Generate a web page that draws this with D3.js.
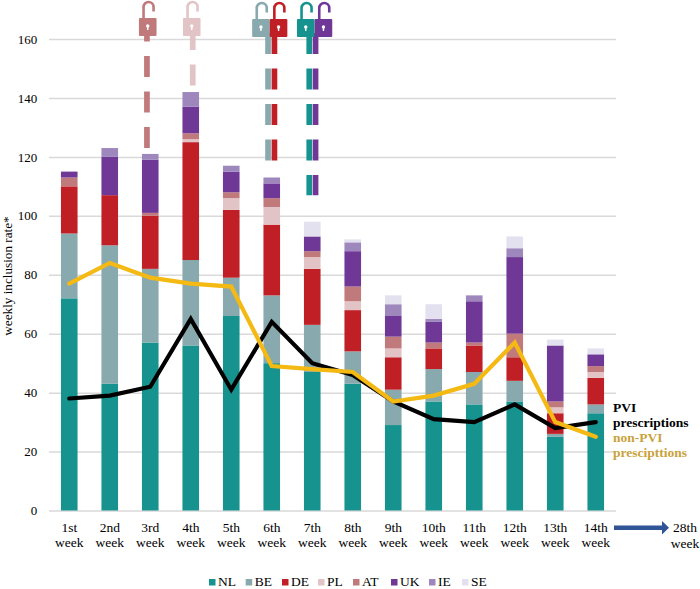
<!DOCTYPE html>
<html>
<head>
<meta charset="utf-8">
<script src="https://d3js.org/d3.v7.min.js"></script>
<style>
  html, body { margin: 0; padding: 0; background: #fff; }
  svg text { font-family: "Liberation Serif", serif; fill: #000; }
</style>
</head>
<body>
<div id="chart"></div>
<script>
var weeks = ["1st", "2nd", "3rd", "4th", "5th", "6th", "7th", "8th", "9th", "10th", "11th", "12th", "13th", "14th"];
var countries = ["NL", "BE", "DE", "PL", "AT", "UK", "IE", "SE"];

// inclusions per week, one list per country
var NL = [72, 43, 57, 56, 66, 50, 47, 43, 29, 37, 36, 37, 25, 33];
var BE = [22, 47, 25, 29, 13, 23, 16, 11, 12, 11, 11, 7, 1, 3];
var DE = [16, 17, 18, 40, 23, 24, 19, 14, 11, 7, 9, 8, 7, 9];
var PL = [0, 0, 0, 1, 4, 6, 4, 3, 3, 0, 0, 0, 2, 2];
var AT = [3, 0, 1, 2, 2, 3, 2, 5, 4, 2, 1, 8, 2, 2];
var UK = [2, 13, 18, 9, 7, 5, 5, 12, 7, 7, 14, 26, 19, 4];
var IE = [0, 3, 2, 5, 2, 2, 0, 3, 4, 1, 2, 3, 0, 0];
var SE = [0, 0, 0, 0, 0, 0, 5, 1, 3, 5, 0, 4, 2, 2];

var pvi = [38, 39, 42, 65, 41, 64, 50, 46, 37, 31, 30, 36, 28, 30];
var nonPvi = [77, 84, 79, 77, 76, 49, 48, 47, 37, 39, 43, 57, 30, 25];

var yTicks = [0, 20, 40, 60, 80, 100, 120, 140, 160];

// which country opened in which week, and how far the dashes run down
var lockCountry = ["AT", "PL", "BE", "DE", "NL", "UK"];
var lockWeek = ["3rd", "4th", "6th", "6th", "7th", "7th"];
var lockUntil = [121, 142, 118, 118, 107, 107];

var colors = {NL: "#17938f", BE: "#88a9ae", DE: "#c11f26", PL: "#e2c4c6",
              AT: "#c07a7c", UK: "#6f3896", IE: "#9d87bd", SE: "#e3e1ef"};

var width = 700, height = 589;
var margin = {top: 39, right: 84, bottom: 78.5, left: 49};

var table = weeks.map(function(w, i) {
  return {week: w, NL: NL[i], BE: BE[i], DE: DE[i], PL: PL[i], AT: AT[i], UK: UK[i], IE: IE[i], SE: SE[i]};
});

var x = d3.scaleBand()
    .domain(weeks)
    .range([margin.left, width - margin.right])
    .paddingInner(0.59)
    .paddingOuter(0.295);

var y = d3.scaleLinear()
    .domain([0, 160])
    .range([height - margin.bottom, margin.top]);

var svg = d3.select("#chart").append("svg")
    .attr("width", width)
    .attr("height", height);

// y axis, ticks stretched into the grid lines
var yAxis = svg.append("g")
    .attr("transform", "translate(" + margin.left + ",0)")
    .call(d3.axisLeft(y).tickValues(yTicks).tickSize(-(width - margin.left - margin.right)).tickPadding(11.7));
yAxis.select(".domain").remove();
yAxis.selectAll("line").attr("stroke", "#d9d9d9").attr("stroke-width", 1.5);
yAxis.selectAll("text").attr("font-size", 13).style("font-family", '"Liberation Serif", serif');

svg.append("text")
    .attr("transform", "translate(12,276) rotate(-90)")
    .attr("text-anchor", "middle")
    .attr("font-size", 13.2)
    .text("weekly inclusion rate*");

// bars
var stack = d3.stack().keys(countries);
svg.append("g").selectAll("g")
    .data(stack(table))
  .enter().append("g")
    .attr("fill", function(d) { return colors[d.key]; })
  .selectAll("rect")
    .data(function(d) { return d; })
  .enter().append("rect")
    .attr("x", function(d) { return x(d.data.week); })
    .attr("y", function(d) { return y(d[1]); })
    .attr("width", x.bandwidth())
    .attr("height", function(d) { return y(d[0]) - y(d[1]); });

// x axis, two line labels
var xAxis = svg.append("g")
    .attr("transform", "translate(0," + y(0) + ")")
    .call(d3.axisBottom(x).tickSize(0));
xAxis.select(".domain").remove();
xAxis.selectAll("text").remove();
xAxis.selectAll(".tick").each(function(d) {
  var t = d3.select(this).append("text")
      .attr("text-anchor", "middle")
      .attr("font-size", 13.5)
      .style("font-family", '"Liberation Serif", serif')
      .attr("fill", "#000");
  t.append("tspan").attr("x", 0).attr("y", 21).text(d);
  t.append("tspan").attr("x", 0).attr("y", 36).text("week");
});

// arrow to the last week
var arrow = d3.path();
arrow.moveTo(614, 525.5);
arrow.lineTo(662, 525.5);
arrow.lineTo(662, 521);
arrow.lineTo(669, 527.7);
arrow.lineTo(662, 534.5);
arrow.lineTo(662, 530);
arrow.lineTo(614, 530);
arrow.closePath();
svg.append("path").attr("d", arrow.toString()).attr("fill", "#2f5597");

var last = svg.append("text").attr("text-anchor", "middle").attr("font-size", 13.5);
last.append("tspan").attr("x", 685).attr("y", 532).text("28th");
last.append("tspan").attr("x", 685).attr("y", 548).text("week");

// dashed lines and padlocks for the countries that opened
var dashX = [-3.3, 2, -3.7, 2.7, -3, 3.3];
var dashStart = [20.5, 29, 33, 33, 33, 33];
var lockX = [-2.5, 1, -10.8, 6.8, -6.5, 11.2];
var lockY = [0, 0, 1, 1, 1, 1];

lockCountry.forEach(function(c, i) {
  var cx = x(lockWeek[i]) + x.bandwidth() / 2;
  svg.append("line")
      .attr("x1", cx + dashX[i]).attr("x2", cx + dashX[i])
      .attr("y1", dashStart[i]).attr("y2", y(lockUntil[i]))
      .attr("stroke", colors[c])
      .attr("stroke-width", 5.7)
      .attr("stroke-dasharray", "21 14.5");
});

lockCountry.forEach(function(c, i) {
  var cx = x(lockWeek[i]) + x.bandwidth() / 2 + lockX[i];
  var g = svg.append("g").attr("transform", "translate(" + cx + "," + lockY[i] + ")");
  var shackle = d3.path();
  shackle.moveTo(-4.2, 19);
  shackle.lineTo(-4.2, 7);
  shackle.arc(0.8, 7, 5, Math.PI, 0);
  shackle.lineTo(5.8, 11.5);
  g.append("path").attr("d", shackle.toString())
      .attr("fill", "none").attr("stroke", colors[c]).attr("stroke-width", 2.6);
  g.append("rect")
      .attr("x", -8.8).attr("y", 18).attr("width", 17.6).attr("height", 18).attr("rx", 1)
      .attr("fill", colors[c]);
  g.append("circle").attr("cx", 0).attr("cy", 26).attr("r", 1.7).attr("fill", "#fff");
  g.append("rect").attr("x", -0.7).attr("y", 26).attr("width", 1.4).attr("height", 4).attr("fill", "#fff");
});

// prescription lines
var line = d3.line()
    .x(function(d, i) { return x(weeks[i]) + x.bandwidth() / 2; })
    .y(function(d) { return y(d); });

svg.append("path").datum(pvi)
    .attr("d", line).attr("fill", "none")
    .attr("stroke", "#000").attr("stroke-width", 4.2).attr("stroke-linecap", "round");
svg.append("path").datum(nonPvi)
    .attr("d", line).attr("fill", "none")
    .attr("stroke", "#f5b914").attr("stroke-width", 4.2).attr("stroke-linecap", "round");

// line labels
var lineLabels = svg.append("g").attr("font-size", 13.5).attr("font-weight", "bold");
lineLabels.append("text").attr("x", 613).attr("y", 412).text("PVI");
lineLabels.append("text").attr("x", 613).attr("y", 427).text("prescriptions");
lineLabels.append("text").attr("x", 613).attr("y", 442).style("fill", "#c9a23c").text("non-PVI");
lineLabels.append("text").attr("x", 613).attr("y", 457).style("fill", "#c9a23c").text("prescipttions");

// legend
var legendPos = [209, 245.7, 282, 318, 353, 391, 429, 462];
var legend = svg.append("g").selectAll("g")
    .data(countries)
  .enter().append("g")
    .attr("transform", function(d, i) { return "translate(" + legendPos[i] + ",582)"; });
legend.append("rect")
    .attr("y", -3).attr("width", 6.5).attr("height", 6.5)
    .attr("fill", function(d) { return colors[d]; });
legend.append("text")
    .attr("x", 9).attr("y", 4).attr("font-size", 13.5)
    .text(function(d) { return d; });
</script>
</body>
</html>
